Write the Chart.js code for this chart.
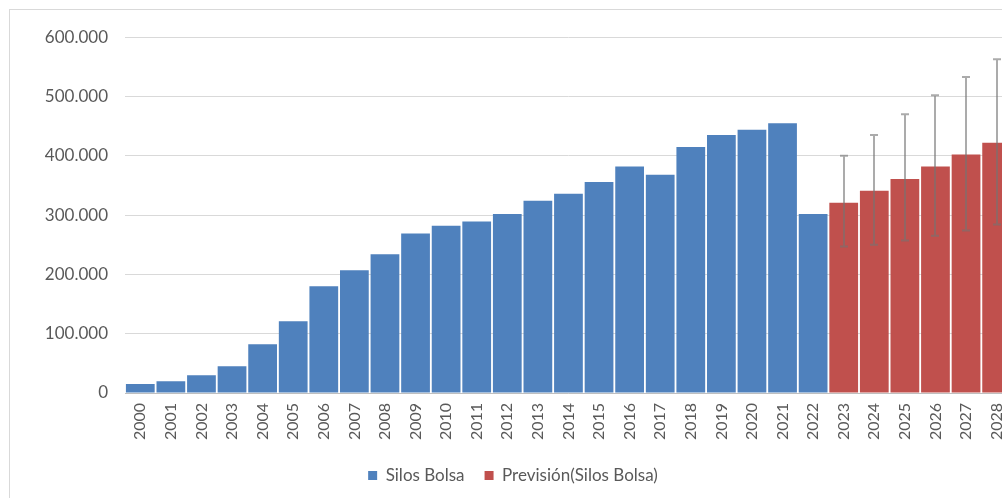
<!DOCTYPE html>
<html>
<head>
<meta charset="utf-8">
<script src="https://cdn.jsdelivr.net/npm/chart.js@4"></script>
<style>
    html, body { margin: 0; padding: 0; background: #fff; overflow: hidden; }
    #marco {
        position: absolute; left: 9px; top: 9px;
        width: 1016px; height: 500px;
        border: 1px solid #d9d9d9; background: #fff;
    }
</style>
</head>
<body>
<div id="marco"><canvas id="graficaSilos" width="1016" height="490"></canvas></div>
<script>
const anios = ['2000','2001','2002','2003','2004','2005','2006','2007','2008','2009',
    '2010','2011','2012','2013','2014','2015','2016','2017','2018','2019',
    '2020','2021','2022','2023','2024','2025','2026','2027','2028'];

const silosBolsa = [15000, 20000, 30000, 45000, 82000, 121000, 180000, 207000, 234000, 269000,
    282000, 289000, 302000, 324000, 336000, 356000, 382000, 368000, 415000, 435000,
    444000, 455000, 302000, null, null, null, null, null, null];

const prevision = [null, null, null, null, null, null, null, null, null, null,
    null, null, null, null, null, null, null, null, null, null,
    null, null, null, 321000, 341000, 361000, 382000, 402000, 422000];

// limites de confianza de la prevision
const limiteInferior = [null, null, null, null, null, null, null, null, null, null,
    null, null, null, null, null, null, null, null, null, null,
    null, null, null, 247000, 250000, 257000, 265000, 274000, 284000];
const limiteSuperior = [null, null, null, null, null, null, null, null, null, null,
    null, null, null, null, null, null, null, null, null, null,
    null, null, null, 400000, 435000, 470000, 502000, 533000, 563000];

const ticksY = [0, 100000, 200000, 300000, 400000, 500000, 600000];

function formatoMiles(v) {
    return String(v).replace(/\B(?=(\d{3})+(?!\d))/g, '.');
}

const barrasError = {
    id: 'barrasError',
    afterDatasetsDraw(chart) {
        const ctx = chart.ctx;
        const x = chart.scales.x, y = chart.scales.y;
        ctx.save();
        ctx.strokeStyle = 'rgba(115,115,115,0.6)';
        ctx.lineWidth = 2;
        limiteInferior.forEach((lo, i) => {
            const hi = limiteSuperior[i];
            if (lo == null || hi == null) return;
            const px = Math.round(x.getPixelForValue(i));
            const y1 = y.getPixelForValue(lo), y2 = y.getPixelForValue(hi);
            ctx.beginPath();
            ctx.moveTo(px, y1); ctx.lineTo(px, y2);
            ctx.moveTo(px - 4, y1); ctx.lineTo(px + 4, y1);
            ctx.moveTo(px - 4, y2); ctx.lineTo(px + 4, y2);
            ctx.stroke();
        });
        ctx.restore();
    }
};

const colorTexto = '#595959';
const familia = 'Lato, "Open Sans", sans-serif';

let ctx = document.getElementById('graficaSilos').getContext('2d');
new Chart(ctx, {
    type: 'bar',
    data: {
        labels: anios,
        datasets: [
            {
                label: 'Silos Bolsa',
                data: silosBolsa,
                backgroundColor: '#4F81BD',
                barPercentage: 0.94,
                categoryPercentage: 1
            },
            {
                label: 'Previsión(Silos Bolsa)',
                data: prevision,
                backgroundColor: '#C0504D',
                barPercentage: 0.94,
                categoryPercentage: 1
            }
        ]
    },
    options: {
        responsive: false,
        animation: false,
        grouped: false,
        layout: { padding: { top: 26, right: 10, bottom: 6, left: 0 } },
        plugins: {
            tooltip: { enabled: false },
            legend: {
                position: 'bottom',
                labels: {
                    color: colorTexto,
                    font: { family: familia, size: 17 },
                    boxWidth: 9,
                    boxHeight: 9,
                    padding: 20
                }
            }
        },
        scales: {
            x: {
                grid: { display: false, drawTicks: false },
                border: { color: '#bfbfbf', width: 1 },
                ticks: {
                    color: colorTexto, font: { family: familia, size: 16 },
                    minRotation: 90, maxRotation: 90,
                    autoSkip: false, padding: 10
                },
                afterFit: s => { s.height = 54; }
            },
            y: {
                min: 0, max: 600000,
                afterBuildTicks: s => { s.ticks = ticksY.map(v => ({ value: v })); },
                grid: { color: '#d9d9d9', lineWidth: 1, drawTicks: false },
                border: { display: false },
                ticks: {
                    color: colorTexto, font: { family: familia, size: 17 }, padding: 17,
                    callback: v => formatoMiles(v)
                },
                afterFit: s => { s.width = 115; }
            }
        }
    },
    plugins: [barrasError]
});
</script>
</body>
</html>
